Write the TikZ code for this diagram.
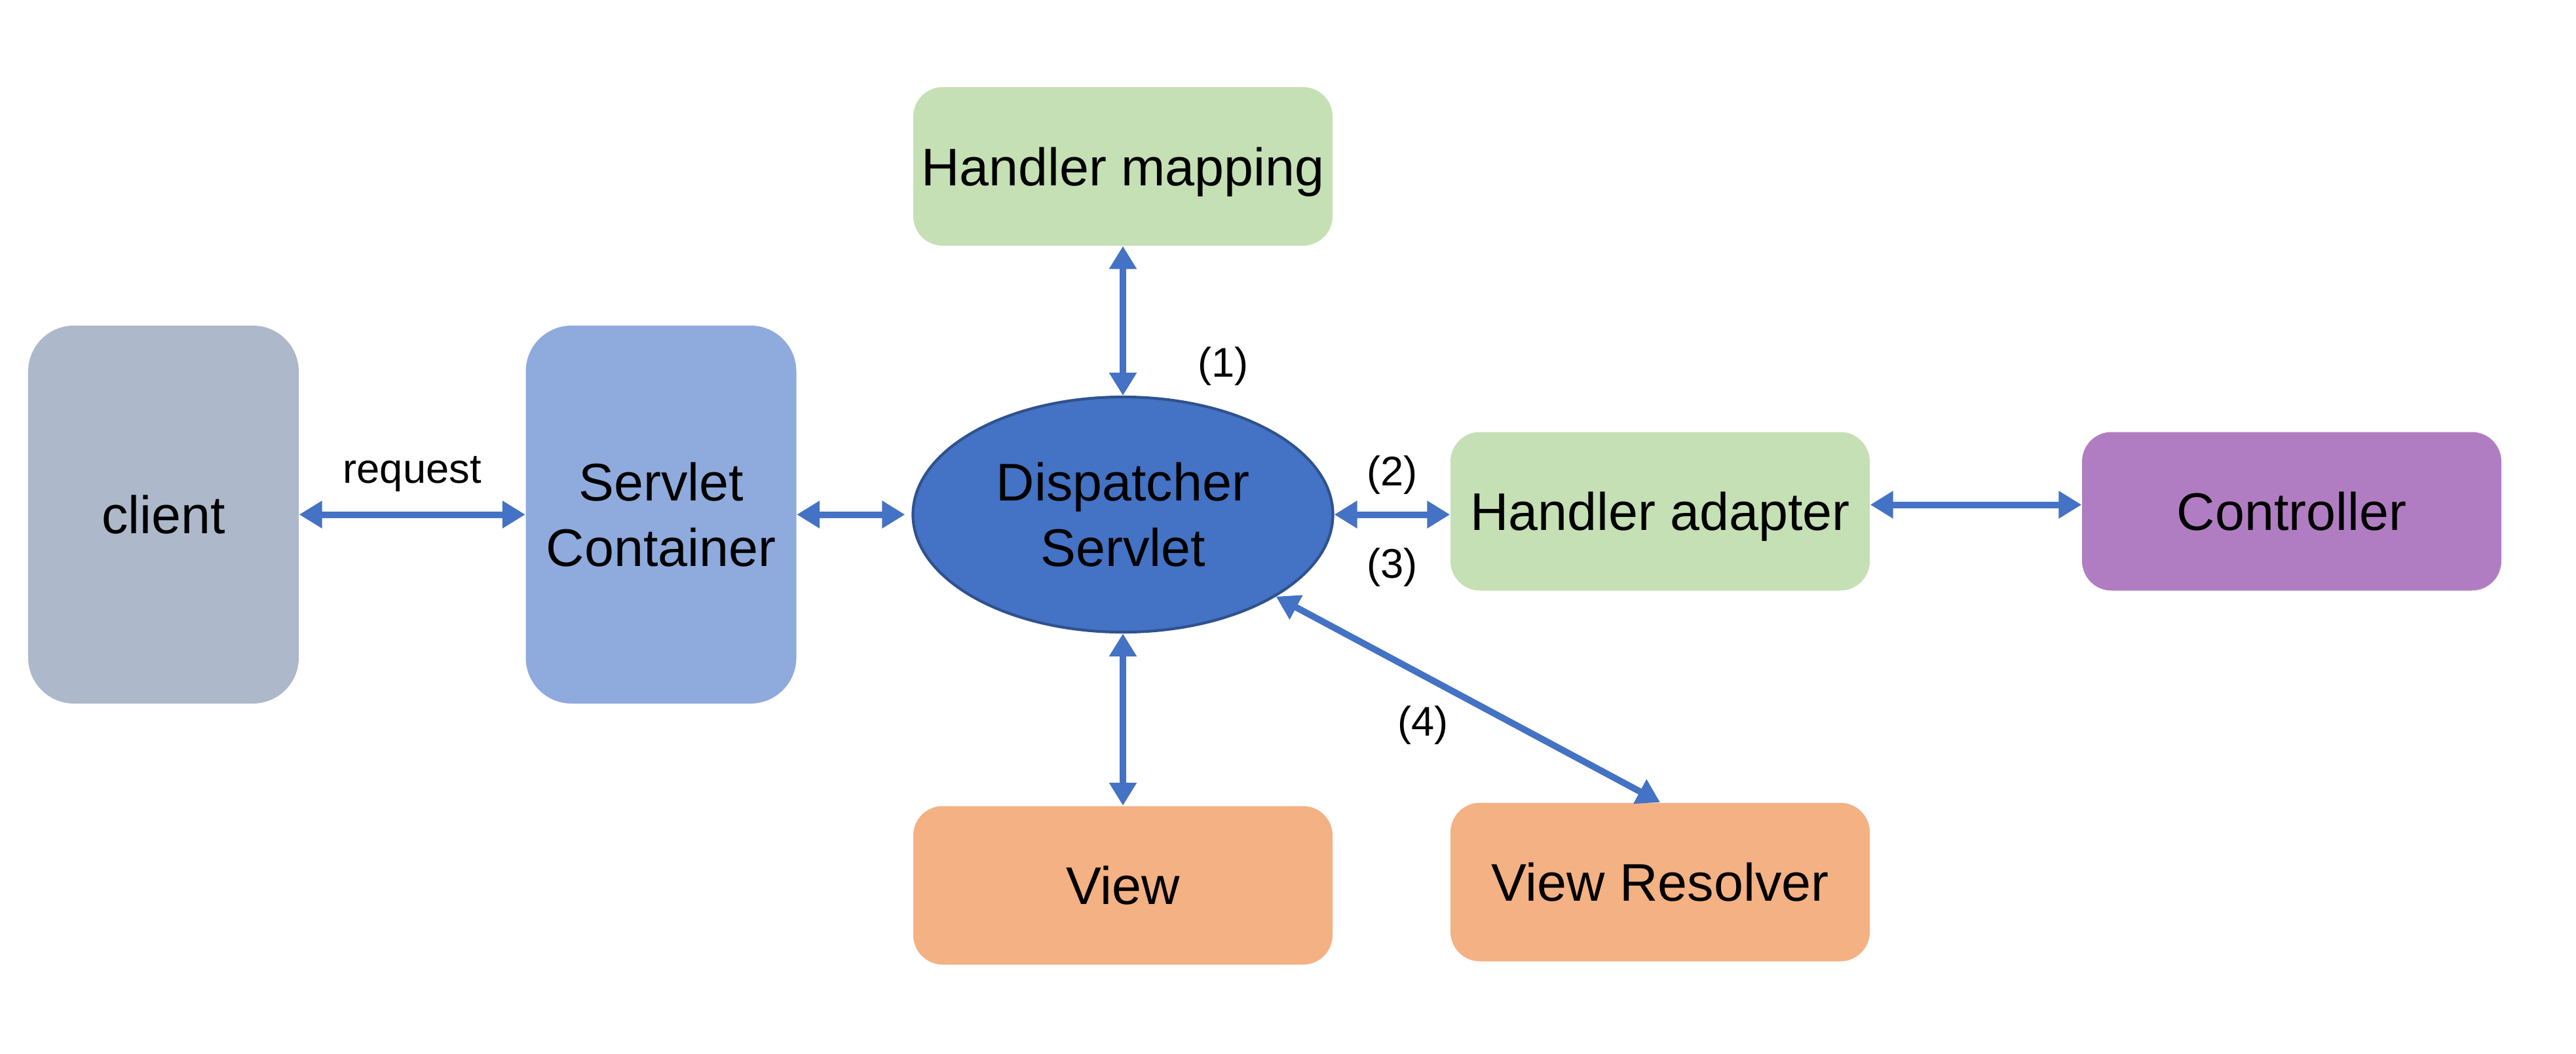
\documentclass[tikz,border=0pt]{standalone}
\usepackage{fontspec}
\setmainfont{Liberation Sans}
\usetikzlibrary{arrows.meta,shapes.geometric,positioning}

\definecolor{clientgray}{HTML}{ADB9CA}
\definecolor{containerblue}{HTML}{8FAADC}
\definecolor{dispatchblue}{HTML}{4472C4}
\definecolor{dispatchedge}{HTML}{2F528F}
\definecolor{handlergreen}{HTML}{C5E0B4}
\definecolor{controllerpurple}{HTML}{B17DC2}
\definecolor{vieworange}{HTML}{F4B183}
\definecolor{linkblue}{HTML}{4472C4}

\begin{document}
\begin{tikzpicture}[node distance=2cm,on grid]
       \tikzstyle{every node}=[font=\fontsize{23}{28.5}\selectfont, align=center, inner sep=0pt]
       \tikzstyle{block}=[rounded corners=0.45cm, minimum width=6.4cm, minimum height=2.42cm, text depth=0pt]
       \tikzstyle{tall block}=[rounded corners=0.7cm, minimum width=4.13cm, minimum height=5.77cm]
       \tikzstyle{lbl}=[font=\fontsize{18}{21.6}\selectfont]
       \tikzstyle{link}=[draw=linkblue, fill=linkblue, line width=0.1cm,
         {Triangle[width=0.4cm,length=0.35cm]}-{Triangle[width=0.4cm,length=0.35cm]}]

       \useasboundingbox (0,0) rectangle (39.32,-16.08);

       \node[tall block, fill=clientgray] (client) at (2.495,-7.855) {client};
       \node[tall block, fill=containerblue] (container) [right =7.595cm of client] {Servlet\\Container};
       \node[ellipse, fill=dispatchblue, draw=dispatchedge, line width=1.2pt,
             minimum width=6.41cm, minimum height=3.59cm] (dispatcher) [right =7.05cm of container] {Dispatcher\\Servlet};
       \node[block, fill=handlergreen] (mapping) [above =5.315cm of dispatcher] {Handler mapping};
       \node[block, fill=vieworange] (view) [below =5.66cm of dispatcher] {View};
       \node[block, fill=handlergreen] (adapter) [right =8.2cm of dispatcher, yshift=0.05cm] {Handler adapter};
       \node[block, fill=controllerpurple] (controller) [right =9.64cm of adapter] {Controller};
       \node[block, fill=vieworange] (resolver) [below =5.66cm of adapter] {View Resolver};

       \draw[link] (client) -- node[lbl, above=0.3cm, fill=none] {request} (container);
       \draw[link, shorten >=0.1cm] (container) -- (dispatcher);
       \draw[link] (dispatcher) -- (mapping.south);
       \draw[link] (dispatcher) -- (view.north);
       \draw[link] (dispatcher) -- node[lbl, above=0.26cm, fill=none] {(2)}
                                  node[lbl, below=0.46cm, fill=none] {(3)} (adapter.west |- dispatcher);
       \draw[link] ([yshift=0.1cm]adapter.east) -- ([yshift=0.1cm]controller.west);
       \draw[link] (dispatcher) -- (resolver.north);

       \node[lbl] (step1) at (18.67,-5.59) {(1)};
       \node[lbl] (step4) at (21.72,-11.07) {(4)};
     \end{tikzpicture}
\end{document}
